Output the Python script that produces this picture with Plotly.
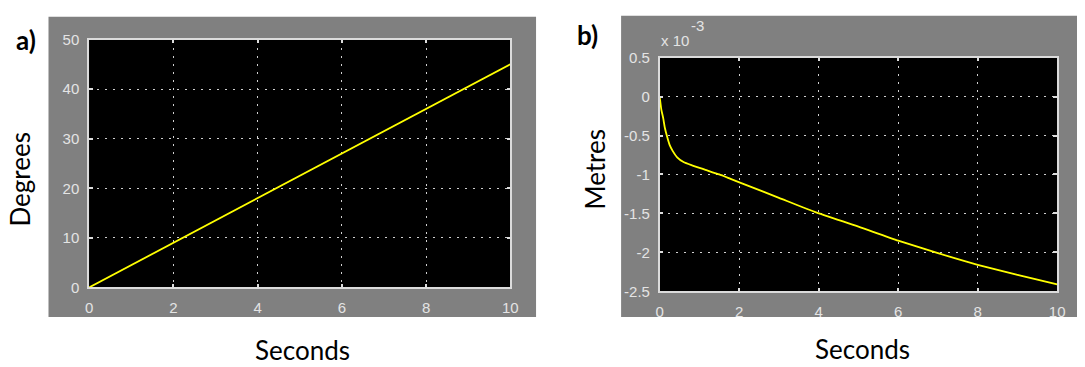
import plotly.graph_objects as go

W, H = 1085, 367

# Panel a: rotation angle over time
time_a = [0, 2, 4, 6, 8, 10]
angle_deg = [0, 9, 18, 27, 36, 45]
xticks = [0, 2, 4, 6, 8, 10]
yticks_a = [0, 10, 20, 30, 40, 50]

# Panel b: displacement over time (units of 1e-3 m)
time_b = [0, 0.04, 0.09, 0.13, 0.19, 0.25, 0.33, 0.44, 0.6, 0.8, 1.15, 1.5,
          1.8, 2.2, 3, 3.9, 5, 6, 7, 8, 9, 10]
disp_e3 = [0, -0.16, -0.28, -0.40, -0.52, -0.62, -0.70, -0.78, -0.84, -0.88,
           -0.94, -1.0, -1.06, -1.14, -1.30, -1.48, -1.67, -1.85, -2.01,
           -2.16, -2.29, -2.41]
yticks_b = [0.5, 0, -0.5, -1, -1.5, -2, -2.5]
yticklabels_b = ["0.5", "0", "-0.5", "-1", "-1.5", "-2", "-2.5"]


def px(x):
    return x / W


def py(y):
    return 1 - y / H


SCOPE_GRAY = "#808080"
LIGHT = "#e4e4e4"
GRID = "#d0d0d0"
TICK_FONT = dict(family="Liberation Sans", size=15, color=LIGHT)
LABEL_FONT = dict(family="Lato", size=26, color="black")

fig = go.Figure()
fig.add_trace(go.Scatter(x=time_a, y=angle_deg, mode="lines",
                         line=dict(color="#ffff00", width=1.8),
                         xaxis="x", yaxis="y", showlegend=False))
fig.add_trace(go.Scatter(x=time_b, y=disp_e3, mode="lines",
                         line=dict(color="#ffff00", width=1.8,
                                   shape="spline", smoothing=0.5),
                         xaxis="x2", yaxis="y2", showlegend=False))

axis_common = dict(
    showgrid=True, gridcolor=GRID, gridwidth=1.4, griddash="2px,6px",
    showline=True, linecolor="#dcdcdc", linewidth=1.5, mirror="allticks",
    ticks="inside", ticklen=4, tickcolor="#dcdcdc", tickwidth=1.5,
    tickfont=TICK_FONT, zeroline=False, fixedrange=True,
)

fig.update_layout(
    width=W, height=H,
    margin=dict(l=0, r=0, t=0, b=0),
    paper_bgcolor="white", plot_bgcolor="black",
    xaxis=dict(domain=[px(86), px(512)], range=[0, 10], tickvals=xticks,
               anchor="y", ticklabelstandoff=6, **axis_common),
    yaxis=dict(domain=[py(292), py(32)], range=[0, 50], tickvals=yticks_a,
               anchor="x", ticklabelstandoff=5, **axis_common),
    xaxis2=dict(domain=[px(663), px(1065)], range=[0, 10], tickvals=xticks,
                anchor="y2", ticklabelstandoff=6, **axis_common),
    yaxis2=dict(domain=[py(296), py(51)], range=[-2.5, 0.5],
                tickvals=yticks_b, ticktext=yticklabels_b,
                anchor="x2", ticklabelstandoff=5, **axis_common),
    shapes=[
        # scope frames
        dict(type="rect", xref="paper", yref="paper", layer="below",
             x0=px(45), x1=px(538), y0=py(323), y1=py(8),
             fillcolor=SCOPE_GRAY, line=dict(width=0)),
        dict(type="rect", xref="paper", yref="paper", layer="below",
             x0=px(624), x1=px(1085), y0=py(323), y1=py(7),
             fillcolor=SCOPE_GRAY, line=dict(width=0)),
        # black plotting areas on top of the frames
        dict(type="rect", xref="x domain", yref="y domain", layer="below",
             x0=0, x1=1, y0=0, y1=1, fillcolor="black", line=dict(width=0)),
        dict(type="rect", xref="x2 domain", yref="y2 domain", layer="below",
             x0=0, x1=1, y0=0, y1=1, fillcolor="black", line=dict(width=0)),
    ],
)

annotations = [
    dict(text="<b>a)</b>", x=px(22), y=py(33)),
    dict(text="<b>b)</b>", x=px(590), y=py(27)),
    dict(text="Degrees", x=px(16), y=py(179), textangle=-90),
    dict(text="Metres", x=px(598), y=py(168), textangle=-90),
    dict(text="Seconds", x=px(302), y=py(358)),
    dict(text="Seconds", x=px(868), y=py(356)),
]
for a in annotations:
    fig.add_annotation(xref="paper", yref="paper", showarrow=False,
                       xanchor="center", yanchor="middle",
                       font=LABEL_FONT, **a)

# exponent marker above the displacement axis
fig.add_annotation(text="x 10", xref="paper", yref="paper", x=px(662),
                   y=py(33), xanchor="left", yanchor="middle",
                   showarrow=False, font=TICK_FONT)
fig.add_annotation(text="-3", xref="paper", yref="paper", x=px(693),
                   y=py(17), xanchor="left", yanchor="middle",
                   showarrow=False, font=TICK_FONT)

fig.write_html("out.html")
